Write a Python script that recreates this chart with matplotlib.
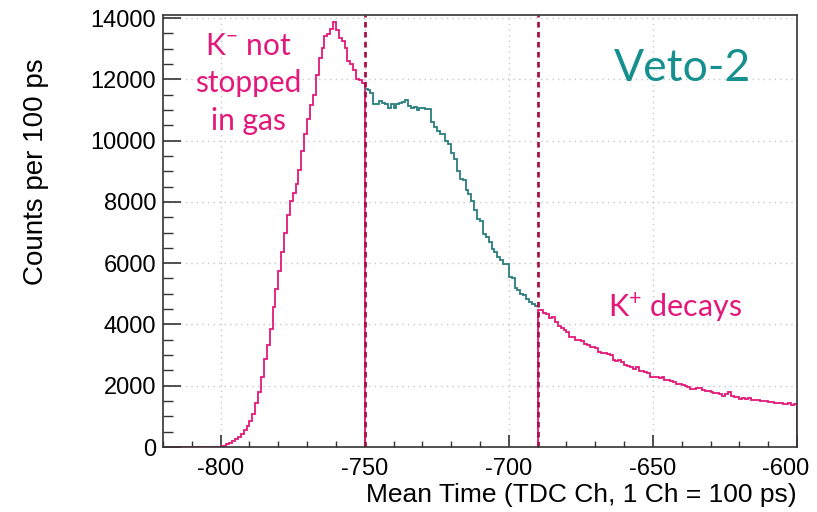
import numpy as np
import matplotlib
matplotlib.use("Agg")
import matplotlib.pyplot as plt
from matplotlib.ticker import MultipleLocator, FuncFormatter

# ---- data -------------------------------------------------------------
bin_width = 1
first_bin = -820
cut_low = -750
cut_high = -690
last_edge = -600

# K- not stopped in gas: bins -820 ... -751
counts_not_stopped = [
    0, 0, 0, 0, 0, 0, 0, 0, 0, 0, 0, 0, 0, 0, 0,
    2, 4, 6, 9, 14,
    20, 45, 90, 140, 200, 250, 330, 410, 550, 690, 850,
    1090, 1450, 1810, 2290, 2870, 3340, 3850, 4580, 5160, 5750, 6350, 6980,
    7580, 8030, 8300,
    8600, 9030, 9650, 10200, 10720, 11160, 11490, 12140, 12690, 13020,
    13400, 13480, 13650, 13870, 13620, 13340, 13260, 13020, 12600, 12490,
    12310, 12000, 11970, 11870,
]

# stopped in gas: bins -750 ... -691
counts_stopped = [
    11700, 11640, 11540, 11180, 11210, 11290, 11240, 11210, 11070, 11180,
    11050, 11210, 11240, 11270, 11320, 11140, 11050, 11100, 11000, 11080,
    11050, 11030, 11030, 10620, 10450, 10300, 10220, 10200, 10000, 9890,
    9590, 9400, 9020, 8750, 8700, 8390, 8260, 8040, 7740, 7450,
    7390, 6960, 6870, 6680, 6470, 6360, 6200, 6090, 5980, 5980,
    5540, 5520, 5200, 5130, 4980, 4950, 4840, 4730, 4670, 4590,
]

# K+ decays: bins -690 ... -601
counts_decays = [
    4480, 4460, 4360, 4350, 4220, 4240, 4080, 3960, 3900, 3820,
    3740, 3600, 3580, 3480, 3500, 3470, 3360, 3330, 3260, 3250,
    3220, 3100, 3080, 3070, 3020, 3000, 2830, 2800, 2850, 2760,
    2680, 2660, 2620, 2560, 2600, 2480, 2490, 2440, 2430, 2300,
    2290, 2270, 2250, 2270, 2190, 2180, 2150, 2130, 2060, 2040,
    2010, 1990, 1960, 1900, 1900, 1920, 1930, 1850, 1820, 1830,
    1790, 1770, 1750, 1740, 1680, 1720, 1780, 1650, 1630, 1620,
    1580, 1610, 1560, 1590, 1550, 1540, 1530, 1510, 1500, 1490,
    1470, 1470, 1450, 1440, 1420, 1410, 1400, 1420, 1380, 1390,
]

x_limits = (-820, -600)
y_limits = (0, 14100)

# ---- style ------------------------------------------------------------
pink = "#e3187a"
teal = "#2a7e7e"
cut_color = "#a8124a"
title_color = "#168f8f"
ann_font = ["Lato", "DejaVu Sans"]

plt.rcParams["font.family"] = ["Liberation Sans", "DejaVu Sans"]
plt.rcParams["axes.unicode_minus"] = False
plt.rcParams["mathtext.fontset"] = "custom"
plt.rcParams["mathtext.rm"] = "Lato"
plt.rcParams["mathtext.it"] = "Lato:italic"
plt.rcParams["mathtext.bf"] = "Lato:bold"

W, H = 817, 512
fig = plt.figure(figsize=(W / 100, H / 100), dpi=100)
L, R, T, B = 163, 797, 15, 447
ax = fig.add_axes([L / W, 1 - B / H, (R - L) / W, (B - T) / H])

e1 = np.arange(first_bin, cut_low + bin_width, bin_width)
e2 = np.arange(cut_low, cut_high + bin_width, bin_width)
e3 = np.arange(cut_high, last_edge + bin_width, bin_width)

ax.stairs(counts_not_stopped, e1, baseline=0, color=pink, lw=1.3, zorder=2.1)
ax.stairs(counts_stopped, e2, baseline=None, color=teal, lw=1.3, zorder=2.1)
ax.stairs(counts_decays, e3, baseline=0, color=pink, lw=1.3, zorder=2.1)

for xc in (cut_low, cut_high):
    ax.axvline(xc, color=cut_color, lw=2.0, ls=(0, (2.0, 1.6)), zorder=2.2)

ax.set_xlim(*x_limits)
ax.set_ylim(*y_limits)

ax.xaxis.set_major_locator(MultipleLocator(50))
ax.xaxis.set_minor_locator(MultipleLocator(10))
ax.yaxis.set_major_locator(MultipleLocator(2000))
ax.yaxis.set_minor_locator(MultipleLocator(500))

# the tick label at the right edge is drawn separately, nudged inside the canvas
edge_tick = x_limits[1]
ax.xaxis.set_major_formatter(
    FuncFormatter(lambda v, p: "" if abs(v - edge_tick) < 1e-6 else f"{int(round(v))}"))

ax.tick_params(axis="both", which="both", direction="in", top=False, right=False,
               colors="#333333", labelcolor="black", labelsize=17)
ax.tick_params(axis="x", which="major", length=9, width=1.2, pad=8)
ax.tick_params(axis="x", which="minor", length=4.5, width=1.0)
ax.tick_params(axis="y", which="major", length=13, width=1.2, pad=5)
ax.tick_params(axis="y", which="minor", length=7, width=1.0)

ax.annotate(f"{edge_tick}", xy=(edge_tick, 0), xycoords=("data", "axes fraction"),
            xytext=(-8, -8), textcoords="offset points", ha="center", va="top",
            fontsize=17, color="black", annotation_clip=False)

for s in ax.spines.values():
    s.set_color("#333333")
    s.set_linewidth(1.2)
    s.set_zorder(2.5)

ax.grid(True, which="major", ls=(0, (1, 3)), color="#c8c8c8", lw=1.0)
ax.set_axisbelow(True)

fig.text(36 / W, 1 - 58 / H, "Counts per 100 ps", rotation=90, ha="center",
         va="top", fontsize=20)
fig.text(R / W, 1 - 495 / H, "Mean Time (TDC Ch, 1 Ch = 100 ps)", ha="right",
         va="center", fontsize=19)

ax.text(-790.3, 11870, "K$^{-}$ not\nstopped\nin gas", ha="center", va="center",
        color=pink, fontsize=21.5, family=ann_font, linespacing=1.42)
ax.text(-639.6, 12370, "Veto-2", ha="center", va="center", color=title_color,
        fontsize=32, family=ann_font)
ax.text(-642.3, 4570, "K$^{+}$ decays", ha="center", va="center", color=pink,
        fontsize=22, family=ann_font)

fig.savefig("out.png", dpi=100)
